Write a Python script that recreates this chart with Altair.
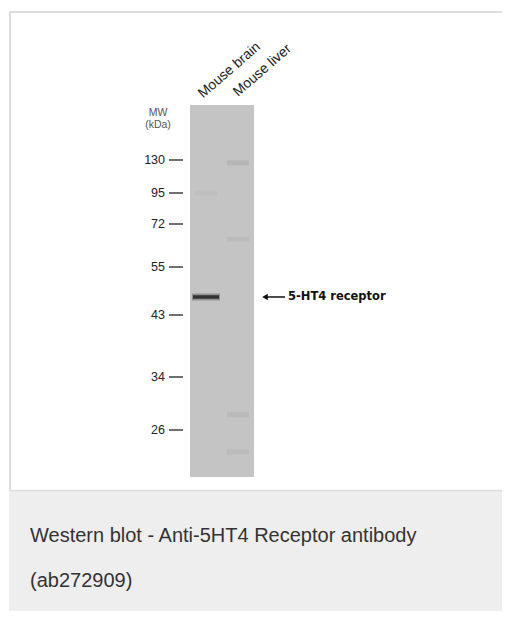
import altair as alt
import pandas as pd

# ---- data read from the blot ----
lanes = ["Mouse brain", "Mouse liver"]
mw_markers = [130, 95, 72, 55, 43, 34, 26]
band_lane = ["Mouse brain", "Mouse brain", "Mouse liver", "Mouse liver", "Mouse liver", "Mouse liver"]
band_mw = [47.5, 95, 127, 66, 28.3, 22.7]
band_intensity = [1.0, 0.05, 0.12, 0.08, 0.09, 0.07]
target_name = "5-HT4 receptor"
target_mw = 47.5
mw_title = ["MW", "(kDa)"]
caption_lines = ["Western blot - Anti-5HT4 Receptor antibody", "(ab272909)"]

# ---- layout constants (pixel positions of the marker ladder) ----
ladder_px = [422, 369, 307, 259, 216, 185, 152]  # for ascending MW 26..130
W, H = 494, 603
FONT = "Liberation Sans"

yscale = alt.Scale(domain=sorted(mw_markers), range=ladder_px, zero=False, nice=False)
xscale = alt.Scale(domain=lanes, range=[182, 246], paddingInner=0, paddingOuter=0)

one = pd.DataFrame({"k": [0]})
markers = pd.DataFrame({"mw": mw_markers, "label": [str(m) for m in mw_markers]})
bands = pd.DataFrame({"lane": band_lane, "mw": band_mw, "intensity": band_intensity})
main = bands[bands["intensity"] >= 0.5]
faint = bands[bands["intensity"] < 0.5]
lane_df = pd.DataFrame({"lane": lanes})
target = pd.DataFrame({"mw": [target_mw], "name": [target_name]})

border = "#dddddd"
frame_bg = alt.Chart(one).mark_rect(fill="white").encode(
    x=alt.value(1), x2=alt.value(W), y=alt.value(3), y2=alt.value(482))
frame_top = alt.Chart(one).mark_rule(color=border, strokeWidth=2).encode(
    x=alt.value(1), x2=alt.value(W), y=alt.value(4))
frame_left = alt.Chart(one).mark_rule(color=border, strokeWidth=2).encode(
    x=alt.value(2), y=alt.value(3), y2=alt.value(483))
caption_bg = alt.Chart(one).mark_rect(fill="#eeeeee").encode(
    x=alt.value(1), x2=alt.value(W), y=alt.value(483), y2=alt.value(H))
frame_sep = alt.Chart(one).mark_rule(color=border, strokeWidth=1.5).encode(
    x=alt.value(1), x2=alt.value(W), y=alt.value(482.5))
blot = alt.Chart(one).mark_rect(fill="#c4c4c4").encode(
    x=alt.value(182), x2=alt.value(246), y=alt.value(97), y2=alt.value(469))

X = alt.X("lane:N", scale=xscale, axis=None)
Y = alt.Y("mw:Q", scale=yscale, axis=None)

faint_bands = alt.Chart(faint).mark_tick(color="#555555", thickness=5, size=22).encode(
    x=X, y=Y, opacity=alt.Opacity("intensity:Q", scale=None, legend=None))
halo = alt.Chart(main).mark_tick(color="#333333", thickness=7, size=28, opacity=0.35).encode(x=X, y=Y)
core = alt.Chart(main).mark_tick(color="#0a0a0a", thickness=3.5, size=26).encode(x=X, y=Y)

ticks = alt.Chart(markers).mark_rule(color="#222222", strokeWidth=1.3).encode(
    y=Y, x=alt.value(161), x2=alt.value(175))
tick_labels = alt.Chart(markers).mark_text(
    font=FONT, fontSize=12.5, color="#222222", align="right", baseline="middle").encode(
    y=Y, x=alt.value(157), text="label:N")

mw_label = alt.Chart(one).mark_text(
    text=mw_title, font=FONT, fontSize=10.5, color="#555555", align="center",
    baseline="alphabetic", lineHeight=12).encode(x=alt.value(150), y=alt.value(108))

lane_label_style = dict(font=FONT, fontSize=14, color="#222222", align="left",
                        baseline="alphabetic", angle=319)
brain_label = alt.Chart(lane_df).transform_filter(alt.datum.lane == lanes[0]).mark_text(
    dx=-4, **lane_label_style).encode(x=X, y=alt.value(88), text="lane:N")
liver_label = alt.Chart(lane_df).transform_filter(alt.datum.lane == lanes[1]).mark_text(
    dx=0, **lane_label_style).encode(x=X, y=alt.value(89), text="lane:N")

arrow_line = alt.Chart(target).mark_rule(color="#111111", strokeWidth=1.5).encode(
    y=Y, x=alt.value(256), x2=alt.value(277))
arrow_head = alt.Chart(target).mark_point(
    shape="triangle-left", filled=True, color="#111111", size=40, opacity=1).encode(
    y=Y, x=alt.value(257))
arrow_text = alt.Chart(target).mark_text(
    font="DejaVu Sans", fontWeight="bold", fontSize=11.5, color="#111111",
    align="left", baseline="middle").encode(y=Y, x=alt.value(280), text="name:N")

caption = alt.Chart(one).mark_text(
    text=caption_lines, font=FONT, fontSize=20, color="#333333", align="left",
    baseline="alphabetic", lineHeight=45).encode(x=alt.value(22), y=alt.value(534))

chart = alt.layer(
    frame_bg, caption_bg, frame_top, frame_left, frame_sep, blot, faint_bands, halo, core,
    ticks, tick_labels, mw_label, brain_label, liver_label, arrow_line, arrow_head,
    arrow_text, caption
).properties(width=W, height=H, padding=0, autosize="none").configure_view(stroke=None)

chart.save("out.html", embed_options={"renderer": "svg", "actions": False})
